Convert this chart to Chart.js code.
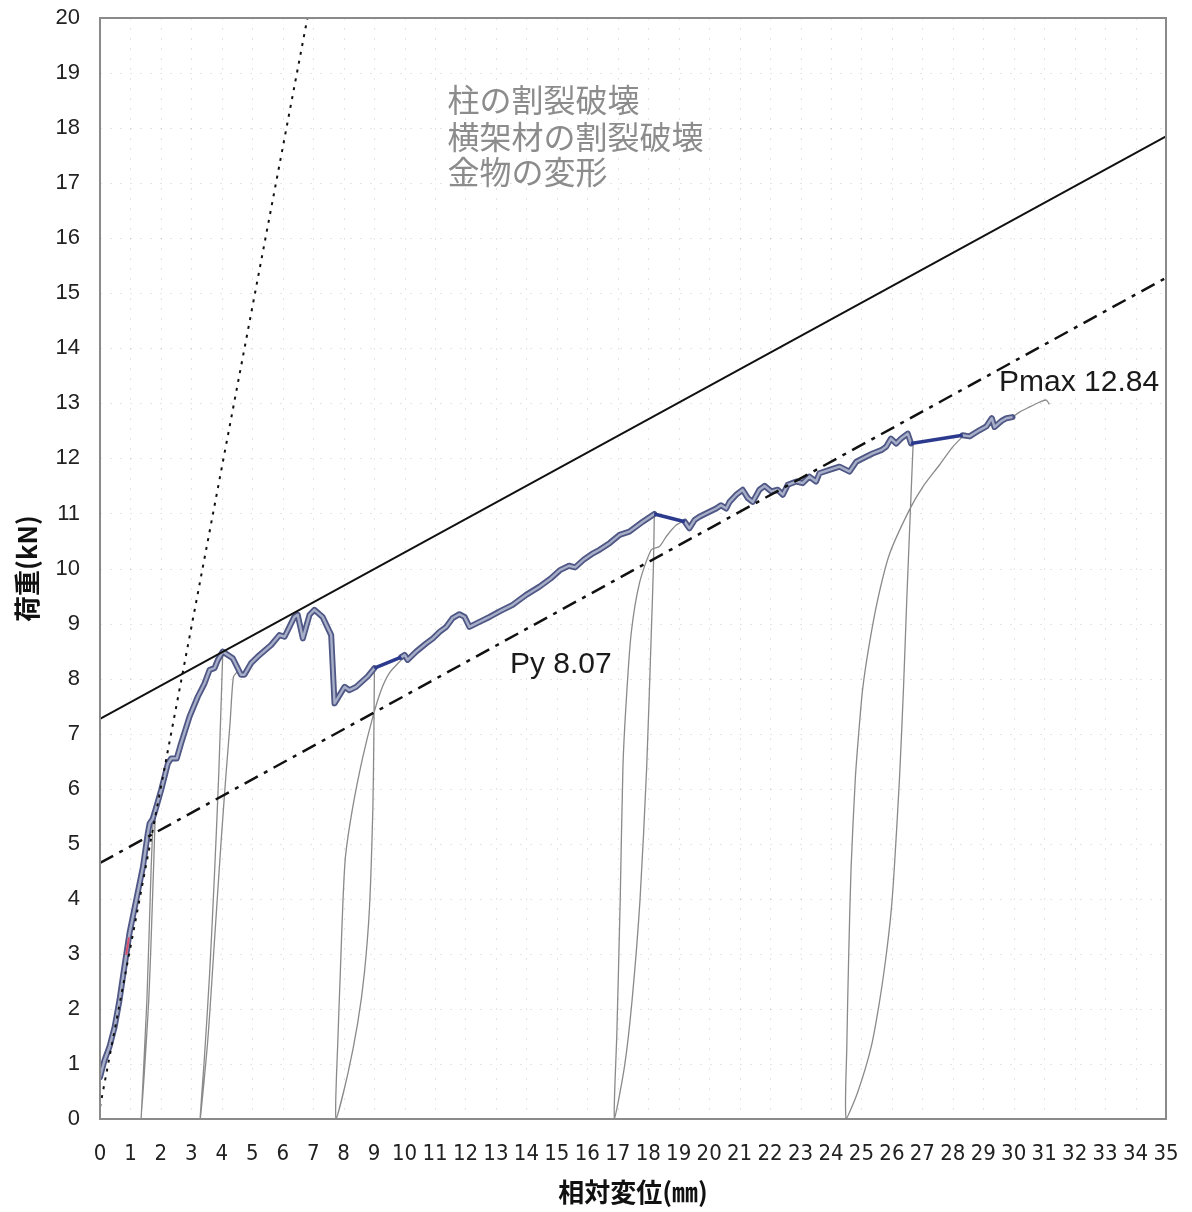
<!DOCTYPE html>
<html><head><meta charset="utf-8">
<script src="https://cdn.jsdelivr.net/npm/chart.js@4.4.0/dist/chart.umd.min.js"></script>
<style>html,body{margin:0;padding:0;background:#fff;}canvas{display:block;}</style>
</head><body>
<canvas id="c" width="1192" height="1212"></canvas>
<script>
// ---- tick labels ----
const xTickLabels = ['0','1','2','3','4','5','6','7','8','9','10','11','12','13','14','15','16','17','18','19','20','21','22','23','24','25','26','27','28','29','30','31','32','33','34','35'];
const yTickLabels = ['0','1','2','3','4','5','6','7','8','9','10','11','12','13','14','15','16','17','18','19','20'];

// ---- envelope (thick) pieces ----
const env1X = [0,0.15,0.31,0.48,0.64,0.80,0.97,1.19,1.30,1.41,1.57,1.63,1.73,1.84,2.01,2.23,2.34,2.52,2.66,2.94,3.21,3.43,3.60,3.76,3.87,4.03,4.36,4.63,4.74,4.96,5.18,5.62,5.89,6.06,6.38,6.49,6.66,6.88,7.04,7.31,7.59,7.70,8.03,8.19,8.41,8.79,9.01];
const env1Y = [0.76,1.07,1.31,1.67,2.16,2.76,3.38,3.98,4.28,4.58,5.19,5.37,5.45,5.65,5.98,6.46,6.55,6.55,6.82,7.31,7.67,7.91,8.16,8.19,8.34,8.49,8.37,8.07,8.07,8.28,8.40,8.61,8.79,8.76,9.12,9.16,8.73,9.16,9.25,9.12,8.79,7.55,7.85,7.79,7.85,8.04,8.19];
const env2X = [9.89,10.0,10.1,10.38,10.71,10.93,11.15,11.37,11.58,11.80,11.97,12.13,12.46,12.79,13.12,13.55,13.99,14.43,14.8,15.1,15.4,15.6,15.9,16.2,16.40,16.73,17.06,17.38,17.60,17.82,18.20];
const env2Y = [8.39,8.43,8.34,8.49,8.64,8.73,8.85,8.94,9.10,9.17,9.12,8.94,9.03,9.12,9.22,9.34,9.52,9.67,9.82,9.97,10.05,10.02,10.17,10.28,10.34,10.46,10.61,10.67,10.76,10.85,10.99];
const env3X = [19.2,19.35,19.52,19.68,20.01,20.23,20.39,20.56,20.67,20.89,21.10,21.27,21.43,21.65,21.82,22.04,22.25,22.42,22.58,22.86,23.07,23.29,23.51,23.62,23.95,24.28,24.61,24.83,25.15,25.37,25.65,25.81,25.97,26.14,26.30,26.52,26.63];
const env3Y = [10.85,10.73,10.88,10.94,11.03,11.09,11.15,11.09,11.21,11.34,11.43,11.28,11.21,11.43,11.50,11.40,11.43,11.34,11.52,11.58,11.55,11.67,11.58,11.73,11.79,11.85,11.76,11.94,12.03,12.09,12.15,12.21,12.36,12.27,12.36,12.45,12.27];
const env4X = [28.32,28.55,28.87,29.1,29.28,29.37,29.6,29.76,29.96];
const env4Y = [12.42,12.40,12.51,12.58,12.73,12.57,12.68,12.73,12.75];

// ---- thin unloading / reloading cycles ----
const cyc1X = [1.82,1.76,1.60,1.35,1.54,1.68,1.75];
const cyc1Y = [5.65,4.58,2.16,0,2.16,4.58,5.50];
const cyc2X = [4.03,3.90,3.76,3.60,3.43,3.29,3.54,3.76,3.98,4.14,4.27,4.38,4.50];
const cyc2Y = [8.46,6.28,4.46,2.65,1.13,0,1.44,3.25,5.07,6.28,7.19,8.03,8.12];
const cyc3X = [9.01,8.99,8.96,8.85,8.68,8.46,8.14,7.75,7.81,7.89,7.97,8.06,8.30,8.63,8.96,9.23,9.50,9.89];
const cyc3Y = [8.22,6.88,5.67,3.86,2.65,1.74,0.83,0,1.44,2.65,3.86,4.77,5.67,6.58,7.31,7.79,8.10,8.34];
const cyc4X = [18.20,18.17,18.10,17.95,17.73,17.47,17.22,16.89,16.97,17.08,17.17,17.28,17.44,17.71,18.10,18.37,18.59,18.92,19.25];
const cyc4Y = [11.01,10.03,8.82,6.40,3.98,2.16,0.95,0,1.56,3.98,6.40,7.61,8.82,9.73,10.34,10.40,10.58,10.79,10.88];
const cyc5X = [26.70,26.49,26.38,26.25,26.08,25.97,25.80,25.59,25.32,24.88,24.50,24.52,24.58,24.66,24.80,24.91,25.04,25.26,25.54,25.92,26.57,27.01,27.56,28.0,28.44];
const cyc5Y = [12.30,9.45,7.81,6.19,4.56,3.74,2.92,2.12,1.31,0.49,0,1.31,2.92,4.56,6.19,7.00,7.81,8.63,9.45,10.26,11.06,11.48,11.88,12.21,12.46];
const tailX = [29.96,30.19,30.5,30.84,31.07,31.17];
const tailY = [12.75,12.84,12.93,13.02,13.06,12.98];
const redX = [0.86,0.95];
const redY = [2.98,3.30];

// ---- reference lines ----
const initX = [0,6.81];      const initY = [0.22,20];
const tanX  = [0,35];        const tanY  = [7.27,17.85];
const yieldX = [0,35];       const yieldY = [4.65,15.28];

// ---- texts ----
const noteLines = ['柱の割裂破壊','横架材の割裂破壊','金物の変形'];
const pyLabel = 'Py 8.07';
const pmaxLabel = 'Pmax 12.84';

const P = (xs, ys) => xs.map((x, i) => ({x: x, y: ys[i]}));
const envPieces = [[env1X,env1Y],[env2X,env2Y],[env3X,env3Y],[env4X,env4Y]];
const cycles = [[cyc1X,cyc1Y],[cyc2X,cyc2Y],[cyc3X,cyc3Y],[cyc4X,cyc4Y],[cyc5X,cyc5Y],[tailX,tailY]];

const datasets = [];
const base = {showLine: true, pointRadius: 0, fill: false};
cycles.forEach(c => datasets.push(Object.assign({}, base, {data: P(c[0], c[1]), borderColor: '#8a8a8a', borderWidth: 1.3, tension: 0.25, order: 10})));
envPieces.forEach(e => datasets.push(Object.assign({}, base, {data: P(e[0], e[1]), borderColor: '#4f5785', borderWidth: 6, tension: 0, order: 8, borderJoinStyle: 'round', borderCapStyle: 'round'})));
envPieces.forEach(e => datasets.push(Object.assign({}, base, {data: P(e[0], e[1]), borderColor: '#a7aec8', borderWidth: 2.4, tension: 0, order: 7, borderJoinStyle: 'round'})));
for (let i = 0; i < envPieces.length - 1; i++) {
  const a = envPieces[i], b = envPieces[i + 1];
  datasets.push(Object.assign({}, base, {data: [{x: a[0][a[0].length - 1], y: a[1][a[1].length - 1]}, {x: b[0][0], y: b[1][0]}], borderColor: '#2c3a8e', borderWidth: 3.5, order: 6}));
}
datasets.push(Object.assign({}, base, {data: P(redX, redY), borderColor: '#d8506a', borderWidth: 2, order: 5}));
datasets.push(Object.assign({}, base, {data: P(yieldX, yieldY), borderColor: '#111', borderWidth: 2.5, borderDash: [15, 7, 4, 7], order: 3}));
datasets.push(Object.assign({}, base, {data: P(tanX, tanY), borderColor: '#111', borderWidth: 2, order: 2}));
datasets.push(Object.assign({}, base, {data: P(initX, initY), borderColor: '#111', borderWidth: 2, borderDash: [3, 6], order: 1}));

const CJK = "'Noto Sans CJK JP', 'Noto Sans', sans-serif";
const annot = {
  id: 'annot',
  beforeDatasetsDraw(chart) {
    const {ctx, chartArea: a, scales: {x, y}} = chart;
    ctx.save();
    ctx.strokeStyle = 'rgba(0,0,0,0.10)';
    ctx.lineWidth = 1;
    ctx.setLineDash([2, 8]);
    for (let v = 1; v < 35; v++) { const px = Math.round(x.getPixelForValue(v)) + 0.5; ctx.beginPath(); ctx.moveTo(px, a.top); ctx.lineTo(px, a.bottom); ctx.stroke(); }
    for (let v = 1; v < 20; v++) { const py = Math.round(y.getPixelForValue(v)) + 0.5; ctx.beginPath(); ctx.moveTo(a.left, py); ctx.lineTo(a.right, py); ctx.stroke(); }
    ctx.restore();
  },
  afterDatasetsDraw(chart) {
    const {ctx, chartArea: a, scales: {x, y}} = chart;
    ctx.save();
    ctx.strokeStyle = '#8a8a8a';
    ctx.lineWidth = 2;
    ctx.strokeRect(a.left, a.top, a.right - a.left, a.bottom - a.top);
    ctx.textAlign = 'left';
    ctx.textBaseline = 'middle';
    ctx.fillStyle = '#8c8c8c';
    ctx.font = '32px ' + CJK;
    const noteY = [18.51, 17.84, 17.20];
    noteLines.forEach((t, i) => ctx.fillText(t, x.getPixelForValue(11.41), y.getPixelForValue(noteY[i])));
    ctx.fillStyle = '#1a1a1a';
    ctx.font = "30px 'Liberation Sans', Arial, sans-serif";
    ctx.fillText(pyLabel, x.getPixelForValue(13.46), y.getPixelForValue(8.25));
    ctx.fillText(pmaxLabel, x.getPixelForValue(29.52), y.getPixelForValue(13.37));
    ctx.restore();
  }
};

new Chart(document.getElementById('c'), {
  type: 'scatter',
  data: {datasets: datasets},
  plugins: [annot],
  options: {
    responsive: false, animation: false, devicePixelRatio: 1,
    layout: {padding: {top: 18, right: 26, left: 0, bottom: 0}},
    plugins: {legend: {display: false}, tooltip: {enabled: false}},
    scales: {
      x: {
        type: 'linear', min: 0, max: 35,
        grid: {display: false, drawTicks: false},
        border: {display: false},
        ticks: {stepSize: 1, autoSkip: false, maxRotation: 0, padding: 22, color: '#222',
          font: {family: "'Liberation Sans Narrow', 'DejaVu Sans Condensed', sans-serif", size: 22},
          callback: v => xTickLabels[v]},
        title: {display: true, text: '相対変位(㎜)', color: '#111', font: {family: CJK, size: 26, weight: 'bold'}, padding: {top: 0, bottom: 4}},
        afterFit(s) { s.height = 93; s.paddingLeft = 0; s.paddingRight = 0; }
      },
      y: {
        type: 'linear', min: 0, max: 20,
        grid: {display: false, drawTicks: false},
        border: {display: false},
        ticks: {stepSize: 1, autoSkip: false, padding: 20, color: '#222',
          font: {family: "'Liberation Sans', Arial, sans-serif", size: 22},
          callback: v => yTickLabels[v]},
        title: {display: true, text: '荷重(kN)', color: '#111', font: {family: CJK, size: 26, weight: 'bold'}, padding: {top: 12, bottom: 0}},
        afterFit(s) { s.width = 100; s.paddingTop = 0; s.paddingBottom = 0; }
      }
    }
  }
});
</script>
</body></html>
